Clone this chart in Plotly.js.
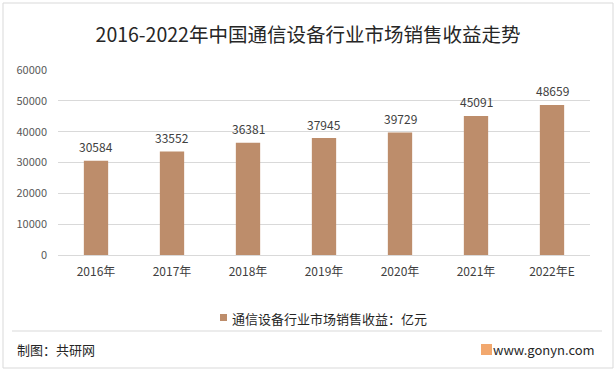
<!DOCTYPE html>
<html><head><meta charset="utf-8">
<script src="https://cdn.plot.ly/plotly-3.0.1.min.js"></script>
<style>html,body{margin:0;padding:0;background:#fff;}#chart{width:616px;height:372px;}</style>
</head><body><div id="chart"></div>
<script>
const categories = ['2016年','2017年','2018年','2019年','2020年','2021年','2022年E'];
const values = [30584, 33552, 36381, 37945, 39729, 45091, 48659];
const yTicks = [0,10000,20000,30000,40000,50000,60000];
const seriesName = '通信设备行业市场销售收益：亿元';

const L=58, R=590, T=70, B=255;
const px = x => (x-L)/(R-L);
const py = y => (B-y)/(B-T);
const cjk = '"Microsoft YaHei","Noto Sans CJK SC",sans-serif';
const barColor = '#BD8D6B';

const trace = {
  type:'bar', x:categories, y:values, name:seriesName,
  marker:{color:barColor}, cliponaxis:false
};
const valueLabels = categories.map((c,i)=>({
  x:c, y:values[i], xref:'x', yref:'y', text:String(values[i]), showarrow:false,
  yanchor:'middle', yshift:14, font:{family:cjk,size:12,color:'#404040'}
}));
const layout = {
  width:616, height:372,
  margin:{l:L, r:616-R, t:T, b:372-B},
  paper_bgcolor:'#fff', plot_bgcolor:'#fff',
  title:{text:'2016-2022年中国通信设备行业市场销售收益走势', font:{family:cjk,size:19.5,color:'#262626'}, x:0.5, xanchor:'center', y:1-35/372, yanchor:'middle', yref:'container'},
  bargap:0.68,
  showlegend:false,
  xaxis:{type:'category', showline:false, ticks:'', tickfont:{family:cjk,size:12,color:'#404040'}, ticklabelstandoff:8},
  yaxis:{range:[0,60000], tickvals:yTicks, ticktext:yTicks.map(String), showgrid:true, gridcolor:'#D9D9D9', zeroline:true, zerolinecolor:'#D9D9D9', tickfont:{family:cjk,size:11,color:'#595959'}, ticklabelstandoff:10},
  shapes:[
    {type:'rect', xref:'paper', yref:'paper', x0:px(3), x1:px(613), y0:py(368), y1:py(3), line:{color:'#D9D9D9',width:1}, layer:'below'},
    {type:'line', xref:'paper', yref:'paper', x0:px(12), x1:px(602), y0:py(331), y1:py(331), line:{color:'#D9D9D9',width:1}},
    {type:'rect', xref:'paper', yref:'paper', x0:px(220), x1:px(227), y0:py(321), y1:py(314), line:{width:0}, fillcolor:barColor},
    {type:'rect', xref:'paper', yref:'paper', x0:px(481), x1:px(492), y0:py(355), y1:py(344), line:{width:0}, fillcolor:'#F2A86E'}
  ],
  annotations:valueLabels.concat([
    {text:seriesName, xref:'paper', yref:'paper', x:px(230), y:py(318), xanchor:'left', yanchor:'middle', showarrow:false, font:{family:cjk,size:13,color:'#262626'}},
    {text:'制图：共研网', xref:'paper', yref:'paper', x:px(15), y:py(349), xanchor:'left', yanchor:'middle', showarrow:false, font:{family:cjk,size:13,color:'#262626'}},
    {text:'www.gonyn.com', xref:'paper', yref:'paper', x:px(597), y:py(349), xanchor:'right', yanchor:'middle', showarrow:false, font:{family:cjk,size:13,color:'#262626'}}
  ])
};
Plotly.newPlot('chart',[trace],layout,{displayModeBar:false,staticPlot:true});
</script></body></html>
